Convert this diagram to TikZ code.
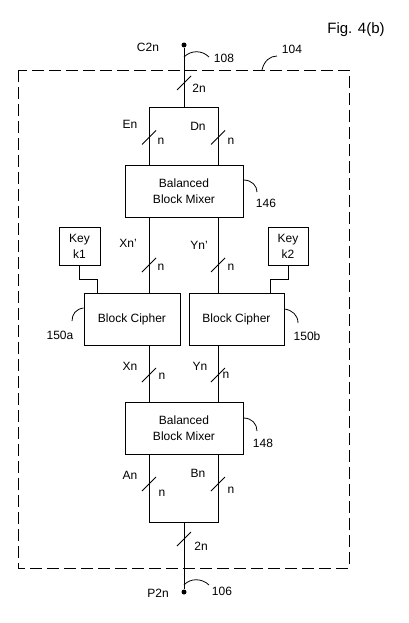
\documentclass[tikz,border=0pt]{standalone}
\usepackage{fontspec}
\setmainfont{Liberation Sans}
\begin{document}
\begin{tikzpicture}[x=1pt,y=-1pt,line width=0.9pt,
  lbl/.style={inner sep=0pt,font=\fontsize{12}{16}\selectfont},
  blk/.style={draw,line width=0.9pt,inner sep=0pt,align=center,font=\fontsize{12}{16}\selectfont},
  dot/.style={circle,fill,inner sep=0pt,minimum size=5pt},
  slash/.style={line width=0.8pt},
  leader/.style={line width=0.8pt}]
\useasboundingbox (0,0) rectangle (408,623);
% enclosure
\draw[dash pattern=on 12pt off 5pt] (18,70) rectangle (349,568);
% nodes
\node[dot] (c2n) at (184,45) {};
\node[dot] (p2n) at (184,592) {};
\node[blk,minimum width=118pt,minimum height=52pt] (mix1) at (184,191) {Balanced\\Block Mixer};
\node[blk,minimum width=96pt,minimum height=52pt] (cipL) at (132,319) {Block Cipher};
\node[blk,minimum width=95pt,minimum height=52pt] (cipR) at (236.5,319) {Block Cipher};
\node[blk,minimum width=41pt,minimum height=38pt] (keyL) at (79.5,246) {Key\\k1};
\node[blk,minimum width=40pt,minimum height=38pt] (keyR) at (288,246) {Key\\k2};
\node[blk,minimum width=118pt,minimum height=52pt] (mix2) at (184,428) {Balanced\\Block Mixer};
% junction coordinates
\coordinate (tj) at (184,107);
\coordinate (tl) at (149,107);
\coordinate (tr) at (218,107);
\coordinate (bj) at (184,522);
\coordinate (bl) at (149,522);
\coordinate (br) at (218,522);
\coordinate (kl) at (97,279);
\coordinate (kr) at (270,279);
% connectors
\draw (c2n) -- (tj);
\draw (tl) -- (tr);
\draw (tl) -- (tl |- mix1.north);
\draw (tr) -- (tr |- mix1.north);
\draw (mix1.south -| tl) -- (cipL.north -| tl);
\draw (mix1.south -| tr) -- (cipR.north -| tr);
\draw (keyL.south) |- (kl) -- (kl |- cipL.north);
\draw (keyR.south) |- (kr) -- (kr |- cipR.north);
\draw (cipL.south -| tl) -- (mix2.north -| tl);
\draw (cipR.south -| tr) -- (mix2.north -| tr);
\draw (mix2.south -| bl) -- (bl) -- (br) -- (mix2.south -| br);
\draw (bj) -- (p2n);
% slashes
\foreach \x/\y in {184/83, 149/137.5, 218/137.5, 149/265, 218/265, 149/375, 218/375, 149/484, 218/484, 184/539}
  \draw[slash] (\x,\y) ++(-7,7) -- ++(14,-14);
% labels
\node[inner sep=0pt,font=\fontsize{15}{18}\selectfont] (fig) at (356,30) {Fig. 4(b)};
\node[lbl] (lc2n) at (148,47) {C2n};
\node[lbl] (l108) at (224,58) {108};
\node[lbl] (l104) at (292,49) {104};
\node[lbl] (l2nt) at (199,88) {2n};
\node[lbl] (len) at (130,124) {En};
\node[lbl] (ldn) at (198,126) {Dn};
\node[lbl] (ln1) at (161,141) {n};
\node[lbl] (ln2) at (231,141) {n};
\node[lbl] (l146) at (266,203) {146};
\node[lbl] (lxnp) at (128,243) {Xn'};
\node[lbl] (lynp) at (199,245) {Yn'};
\node[lbl] (ln3) at (161,267) {n};
\node[lbl] (ln4) at (231,267) {n};
\node[lbl] (l150a) at (60,335) {150a};
\node[lbl] (l150b) at (307,336) {150b};
\node[lbl] (lxn) at (130,366) {Xn};
\node[lbl] (lyn) at (200,366) {Yn};
\node[lbl] (ln5) at (162,376) {n};
\node[lbl] (ln6) at (226,375) {n};
\node[lbl] (l148) at (263,443) {148};
\node[lbl] (lan) at (130,475) {An};
\node[lbl] (lbn) at (198,473) {Bn};
\node[lbl] (ln7) at (162,493) {n};
\node[lbl] (ln8) at (231,490) {n};
\node[lbl] (l2nb) at (201,546) {2n};
\node[lbl] (lp2n) at (158,593) {P2n};
\node[lbl] (l106) at (222,591) {106};
% leader curves
\draw[leader] (184,57) .. controls (191,50) and (202,50) .. (209,57);
\draw[leader] (262,70) .. controls (264,61) and (270,56) .. (277,56);
\draw[leader] (mix1.east |- 0,180) .. controls (252,180) and (257,186) .. (257,192);
\draw[leader] (cipL.west |- 0,308) .. controls (76,309) and (72,314) .. (72,321);
\draw[leader] (cipR.east |- 0,309) .. controls (292,310) and (298,315) .. (298,323);
\draw[leader] (mix2.east |- 0,418) .. controls (252,418) and (257,424) .. (257,431);
\draw[leader] (184,585) .. controls (190,578) and (202,578) .. (209,585);
\end{tikzpicture}
\end{document}
